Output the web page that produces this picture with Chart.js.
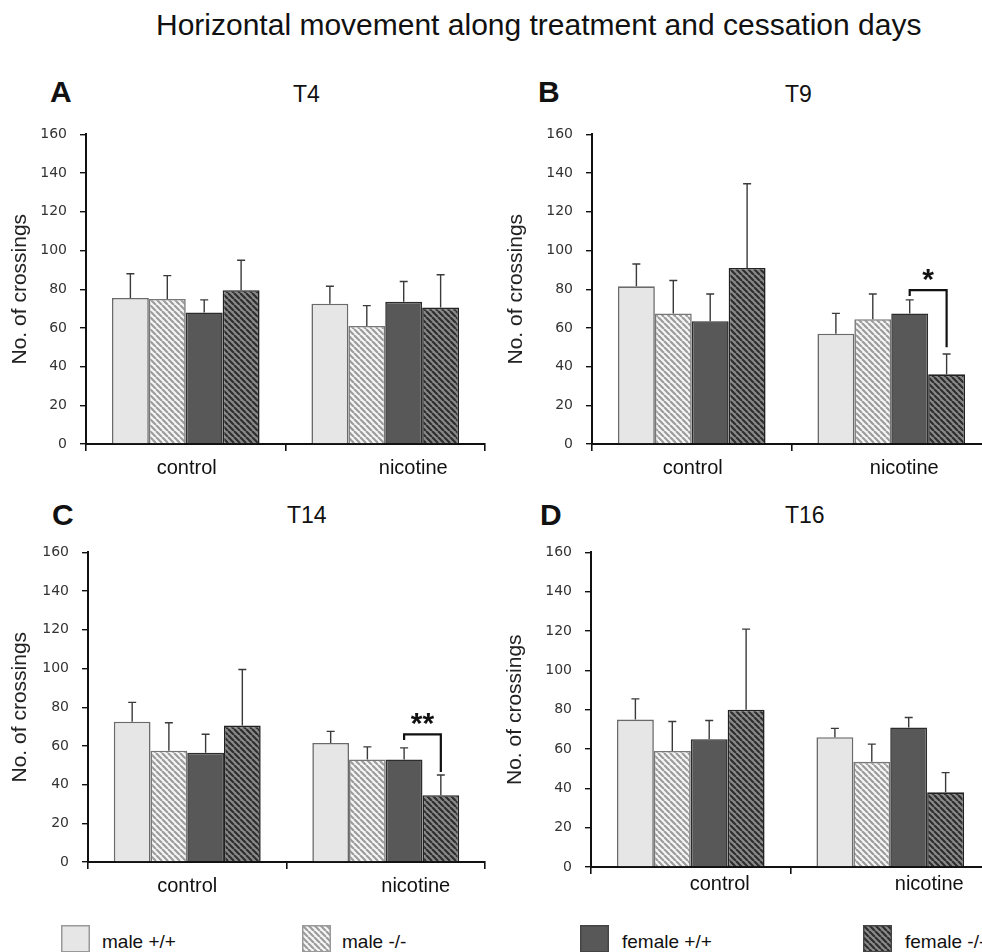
<!DOCTYPE html>
<html>
<head>
<meta charset="utf-8">
<script src="https://cdn.jsdelivr.net/npm/chart.js@4.4.1/dist/chart.umd.min.js"></script>
<style>
html, body { margin: 0; padding: 0; background: #fff; width: 982px; height: 952px; overflow: hidden; }
body { position: relative; font-family: 'Liberation Sans', Arial, sans-serif; color: #111; }
.txt { position: absolute; white-space: nowrap; line-height: 1; }
canvas.panel, canvas.swatch { position: absolute; }
</style>
</head>
<body>
<script>
const categories = ['control', 'nicotine'];
const seriesNames = ['male +/+', 'male -/-', 'female +/+', 'female -/-'];
const panelLetters = ['A', 'B', 'C', 'D'];
const panelTitles = ['T4', 'T9', 'T14', 'T16'];

// mean crossings, one row per series: [control, nicotine]
const t4Means = [[75.5, 72.5], [75, 61], [68, 73.5], [79.5, 70.5]];
const t4Sem = [[12.5, 9], [12, 10.5], [6.5, 10.5], [15.5, 17]];
const t9Means = [[81.5, 57], [67.5, 64.5], [63.5, 67.5], [91, 36]];
const t9Sem = [[11.5, 10.5], [17, 13], [14, 7], [43.5, 10.5]];
const t14Means = [[72.5, 61.5], [57.5, 53], [56.5, 53], [70.5, 34.5]];
const t14Sem = [[10, 6], [14.5, 6.5], [9.5, 6], [29, 10.5]];
const t16Means = [[75, 66], [59, 53.5], [65, 71], [80, 38]];
const t16Sem = [[10.5, 4.5], [15, 9], [9.5, 5], [41, 10]];

// significance brackets (female +/+ vs female -/- under nicotine)
const t9Bracket = { category: 1, from: 2, to: 3, top: 79.5, fromEnd: 76.5, toEnd: 50, mark: '*' };
const t14Bracket = { category: 1, from: 2, to: 3, top: 66, fromEnd: 63, toEnd: 46.5, mark: '**' };

const panelMeans = [t4Means, t9Means, t14Means, t16Means];
const panelSem = [t4Sem, t9Sem, t14Sem, t16Sem];
const panelBrackets = [null, t9Bracket, t14Bracket, null];

// page layout of each panel
const boxes = [
  { left: 0, top: 113, w: 490, h: 376, axisW: 86, padR: 5, titlePad: 7.4, shift: [1, 28], dy: 24, letterX: 50, letterBase: 102, titleX: 293, titleBase: 102 },
  { left: 490, top: 113, w: 510, h: 376, axisW: 102, padR: 9, titlePad: 13.4, shift: [1, 13], dy: 24, letterX: 538, letterBase: 102, titleX: 785, titleBase: 102 },
  { left: 0, top: 531, w: 490, h: 376, axisW: 88, padR: 5, titlePad: 7.4, shift: [0, 30], dy: 24, letterX: 52, letterBase: 525, titleX: 287, titleBase: 523 },
  { left: 490, top: 531, w: 510, h: 381, axisW: 101, padR: 10, titlePad: 12.4, shift: [29, 39], dy: 17, letterX: 540, letterBase: 525, titleX: 785, titleBase: 523 }
];

function hatch(bg, fg) {
  const size = 6;
  const c = document.createElement('canvas');
  c.width = c.height = size;
  const g = c.getContext('2d');
  g.fillStyle = bg;
  g.fillRect(0, 0, size, size);
  g.strokeStyle = fg;
  g.lineWidth = 2.2;
  g.beginPath();
  for (const o of [-size, 0, size]) { g.moveTo(o, 0); g.lineTo(o + size, size); }
  g.stroke();
  return g.createPattern(c, 'repeat');
}

const fills = ['#e6e6e6', hatch('#f6f6f6', '#9c9c9c'), '#585858', hatch('#8a8a8a', '#2e2e2e')];
const edges = ['#6a6a6a', '#777', '#2c2c2c', '#222'];

function addText(str, x, base, size, extra) {
  const d = document.createElement('div');
  d.className = 'txt';
  d.textContent = str;
  d.style.left = x + 'px';
  d.style.top = (base - 0.8465 * size) + 'px';
  d.style.fontSize = size + 'px';
  if (extra) Object.assign(d.style, extra);
  document.body.appendChild(d);
}

const errorBars = {
  id: 'errorBars',
  afterDatasetsDraw(chart) {
    const { ctx, scales: { y } } = chart;
    ctx.save();
    ctx.strokeStyle = '#3a3a3a';
    ctx.lineWidth = 1.4;
    chart.data.datasets.forEach((ds, i) => {
      chart.getDatasetMeta(i).data.forEach((bar, j) => {
        const top = y.getPixelForValue(ds.data[j] + ds.sem[j]);
        ctx.beginPath();
        ctx.moveTo(bar.x, bar.y);
        ctx.lineTo(bar.x, top);
        ctx.moveTo(bar.x - 4, top);
        ctx.lineTo(bar.x + 4, top);
        ctx.stroke();
      });
    });
    ctx.restore();
  }
};

function makeLabels(box) {
  return {
    id: 'catLabels',
    afterDraw(chart) {
      const { ctx, scales: { x } } = chart;
      ctx.save();
      ctx.font = '20px "Liberation Sans", Arial, sans-serif';
      ctx.fillStyle = '#111';
      ctx.textAlign = 'center';
      ctx.textBaseline = 'middle';
      chart.data.labels.forEach((l, i) => {
        ctx.fillText(l, x.getPixelForValue(i) + box.shift[i], x.top + box.dy);
      });
      ctx.restore();
    }
  };
}

function makeBracket(b) {
  return {
    id: 'bracket',
    afterDatasetsDraw(chart) {
      if (!b) return;
      const { ctx, scales: { y } } = chart;
      const x1 = chart.getDatasetMeta(b.from).data[b.category].x;
      const x2 = chart.getDatasetMeta(b.to).data[b.category].x;
      const yTop = y.getPixelForValue(b.top);
      ctx.save();
      ctx.strokeStyle = '#111';
      ctx.lineWidth = 2.2;
      ctx.beginPath();
      ctx.moveTo(x1, y.getPixelForValue(b.fromEnd));
      ctx.lineTo(x1, yTop);
      ctx.lineTo(x2, yTop);
      ctx.lineTo(x2, y.getPixelForValue(b.toEnd));
      ctx.stroke();
      ctx.font = 'bold 30px "Liberation Sans", Arial, sans-serif';
      ctx.fillStyle = '#111';
      ctx.textAlign = 'center';
      ctx.textBaseline = 'alphabetic';
      ctx.fillText(b.mark, (x1 + x2) / 2, yTop - 1);
      ctx.restore();
    }
  };
}

addText('Horizontal movement along treatment and cessation days', 156, 35, 30);

boxes.forEach((box, p) => {
  addText(panelLetters[p], box.letterX, box.letterBase, 30, { fontWeight: 'bold' });
  addText(panelTitles[p], box.titleX, box.titleBase, 23);

  const cv = document.createElement('canvas');
  cv.className = 'panel';
  cv.width = box.w;
  cv.height = box.h;
  cv.style.left = box.left + 'px';
  cv.style.top = box.top + 'px';
  document.body.appendChild(cv);

  new Chart(cv.getContext('2d'), {
    type: 'bar',
    data: {
      labels: categories,
      datasets: seriesNames.map((name, s) => ({
        label: name,
        data: panelMeans[p][s],
        sem: panelSem[p][s],
        backgroundColor: fills[s],
        borderColor: edges[s],
        borderWidth: 1.6,
        categoryPercentage: 0.74,
        barPercentage: 1.0
      }))
    },
    options: {
      responsive: false,
      animation: false,
      layout: { padding: { top: 15, right: box.padR, bottom: 0, left: 0 } },
      plugins: { legend: { display: false }, tooltip: { enabled: false } },
      scales: {
        x: {
          ticks: { display: false },
          grid: { offset: true, drawOnChartArea: false, drawTicks: true, tickLength: 7, color: '#111', lineWidth: 1.6 },
          border: { color: '#111', width: 2 },
          afterFit: s => { s.height = 45; }
        },
        y: {
          min: 0,
          max: 160,
          ticks: { stepSize: 20, padding: 13, color: '#333', font: { family: 'DejaVu Sans', size: 14 } },
          grid: { drawOnChartArea: false, drawTicks: true, tickLength: 6, color: '#111', lineWidth: 1.4 },
          border: { color: '#111', width: 2 },
          title: {
            display: true,
            text: 'No. of crossings',
            color: '#222',
            font: { family: 'Liberation Sans', size: 21 },
            padding: { top: box.titlePad, bottom: 0 }
          },
          afterFit: s => { s.width = box.axisW; }
        }
      }
    },
    plugins: [errorBars, makeLabels(box), makeBracket(panelBrackets[p])]
  });
});

// legend
const legendSwatchX = [61, 302, 580, 863];
const legendTextX = [102, 342, 622, 905];
seriesNames.forEach((name, s) => {
  const c = document.createElement('canvas');
  c.className = 'swatch';
  c.width = 29;
  c.height = 27;
  c.style.left = legendSwatchX[s] + 'px';
  c.style.top = '925px';
  document.body.appendChild(c);
  const g = c.getContext('2d');
  g.fillStyle = fills[s];
  g.fillRect(0, 0, 29, 27);
  g.strokeStyle = s < 2 ? '#999' : '#444';
  g.lineWidth = 1.5;
  g.strokeRect(0.75, 0.75, 27.5, 26);
  addText(name, legendTextX[s], 948, 19);
});
</script>
</body>
</html>
